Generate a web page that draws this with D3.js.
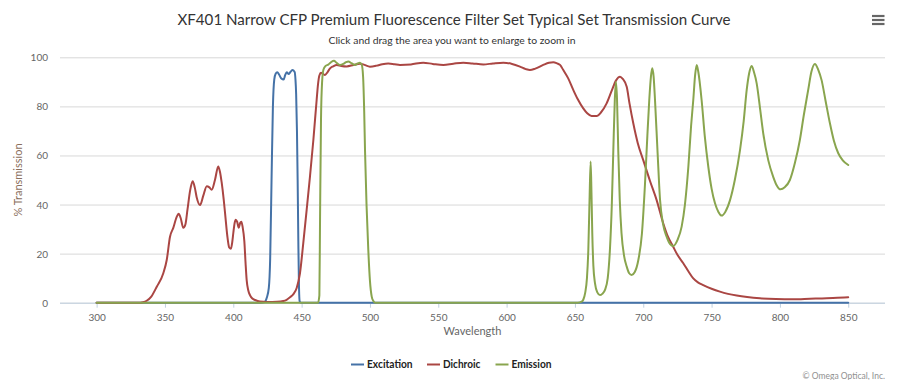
<!DOCTYPE html>
<html>
<head>
<meta charset="utf-8">
<script src="https://cdn.jsdelivr.net/npm/d3@7"></script>
<style>
html,body{margin:0;padding:0;background:#fff;}
svg{display:block;font-family:Lato,"Open Sans",sans-serif;}
</style>
</head>
<body>
<svg id="chart" width="900" height="380"></svg>
<script>
// ---- data ----
const titleText = "XF401 Narrow CFP Premium Fluorescence Filter Set Typical Set Transmission Curve";
const subtitleText = "Click and drag the area you want to enlarge to zoom in";
const seriesNames = ["Excitation", "Dichroic", "Emission"];
const seriesColors = ["#4572A7", "#AA4643", "#89A54E"];
const xTicks = [300,350,400,450,500,550,600,650,700,750,800,850];
const yTicks = [0,20,40,60,80,100];

const excitation = [[300,0],[420,0],[423,0.3],[424.5,2],[426,6],[427,18],[428,50],[429,80],[430,91],[431,93.3],[432.2,93.9],[433.5,93],[435,91.5],[436.9,91],[438,92.8],[439.1,93.9],[440.5,93.2],[441.8,94],[443.2,94.8],[444.9,94],[445.5,91],[446,85],[446.6,70],[447.1,50],[447.6,25],[448.1,6],[448.6,0.5],[449.5,0],[850,0]];

const dichroic = [[300,0],[332,0],[334,0.2],[336.6,0.8],[340,2.5],[344,6.5],[348.8,12],[351.3,17.4],[353.7,26.9],[356.1,30.5],[358.6,35],[360,36.2],[361.5,34.5],[363.4,30.5],[365,32],[366.5,38],[368.5,46],[370.3,49.5],[371.8,47],[373.2,43],[375.7,39.8],[378,43.5],[380.6,47.5],[382.5,47],[384.2,46],[386.6,50],[389,55.5],[390.2,53.5],[391.5,49],[393,42],[394,36.4],[395.9,26],[397,22.5],[398.3,22],[399.2,24.5],[400,28.3],[401,32.5],[401.8,33.8],[402.8,33],[404,30.5],[405,32.5],[405.9,33],[406.8,31],[408.1,25],[409,16],[409.8,9.2],[411,5],[412.2,3.1],[414,1.7],[416,1.1],[419.5,0.5],[425,0.3],[432,0.4],[436.6,0.7],[439,1.2],[441.5,2.2],[444,3.5],[446.4,6],[448.8,12],[451.2,24.2],[453.7,37.8],[456.1,51.3],[458.6,66.3],[461,82.6],[462,89],[463,92.6],[464.2,93.7],[465.5,93.3],[467.1,92.8],[469,94],[470.8,95.5],[473,96.3],[475.7,96.9],[479,96.5],[483,96.3],[488,96.9],[492.7,97.4],[496,96.9],[500,96.2],[504.9,96.6],[509,97.2],[513.4,97.5],[518,97.2],[522,96.9],[530,97.1],[539,97.8],[546,97.3],[553.7,96.9],[561,97.4],[568.3,97.8],[575,97.5],[583,97.1],[590,97.5],[597.6,97.8],[604,97.3],[609.8,96.2],[614,95.2],[617.1,94.8],[621,95.4],[626.8,96.9],[631,97.8],[634.2,98],[637,97.5],[639.1,96.9],[641.5,94.8],[645,91.5],[648.8,86.7],[652,83],[656.1,79.2],[659,77.2],[662.2,76.1],[665.9,76.1],[669,77.5],[673.2,81.2],[677,86.5],[680,90.5],[683,92.1],[685,91.2],[687.9,88],[690,81],[692.7,73.1],[696,65],[700,58.1],[705,49.5],[709.8,41.8],[714.6,32.4],[718,27],[721.9,22.8],[725,19.5],[729.3,16.1],[733,12.8],[736.6,9.9],[740,8.3],[743.9,7.2],[750,5.7],[756.1,4.5],[762,3.6],[768.4,2.9],[776,2.3],[785.4,1.8],[797,1.5],[809.8,1.4],[822,1.6],[834.2,1.8],[842,2.0],[850,2.2]];

const emission = [[300,0],[462,0],[463,3],[463.5,35],[464.2,75],[465,90],[466,95],[467.5,96.5],[469.5,97],[471.5,98],[473.7,98.6],[475.5,97.8],[478.1,96.9],[480.5,97.3],[482.5,98],[484.2,98.3],[486.5,97.6],[489.1,96.9],[491,97.5],[492.7,97.8],[494,97],[495,92],[495.8,78],[496.4,62],[497.5,40],[498.8,21.5],[500,9],[501.3,2.5],[502.5,0.7],[504,0],[652,0],[654.9,0.4],[656.1,1.2],[657.5,4],[658.8,10],[659.8,21.5],[660.7,42],[661.5,57.5],[662.1,45],[662.7,28.3],[663.5,15],[664.7,7.9],[666.3,4.3],[668.3,3.1],[670,3.6],[672,5.2],[674,10],[675.6,21.5],[677,40],[678.1,62.2],[679.2,83],[680,90],[680.8,83],[681.7,62.2],[682.8,42],[684.1,28.3],[686,19],[687.9,14.7],[689.7,12],[691.5,11.3],[693.8,12.5],[696.4,17.4],[699,28],[701.3,48.7],[703,68],[704.4,82.6],[705.6,92],[706.6,95.5],[707.6,92],[708.6,82.6],[710.5,61],[712.3,41.8],[714.5,32],[717.1,26.9],[719.5,24],[722,23.1],[725,25.5],[728.1,31],[730.5,40],[733,55.4],[735,72],[736.6,82.6],[738,93],[739.1,96.9],[740.3,94],[742.7,82.6],[745,68],[747.6,55.4],[750,46.5],[752.5,40.5],[755,37],[757.4,35.5],[760,37],[763.5,41.8],[767,50],[770.8,62.2],[773.5,74],[775.7,86.7],[777.5,93.5],[779.3,96.5],[781,94],[783,89.4],[785.5,79],[787.8,69],[791.5,58],[795.1,51.3],[797.5,48],[800.5,46.2],[803.5,47],[807.3,50],[811,57],[814.6,66.3],[817.5,76.5],[820.7,86.7],[823,94],[825.6,97.3],[828,95],[830.5,90.7],[833.5,82],[836.6,73.1],[839.5,66],[842.7,60.9],[846,58],[850,56.1]];

const seriesData = [excitation, dichroic, emission];

// ---- layout ----
const svg = d3.select("#chart");
const plot = {left: 60, right: 885, top: 57.3, bottom: 302.7};
const x = d3.scaleLinear().domain([273.2, 876.9]).range([plot.left, plot.right]);
const y = d3.scaleLinear().domain([0, 100]).range([plot.bottom, plot.top]);

// title + subtitle
svg.append("text").attr("x", 454).attr("y", 25).attr("text-anchor", "middle")
  .attr("font-size", 16).attr("fill", "#333")
  .attr("textLength", 553).attr("lengthAdjust", "spacingAndGlyphs").text(titleText);
svg.append("text").attr("x", 452).attr("y", 44.3).attr("text-anchor", "middle")
  .attr("font-size", 10).attr("fill", "#333")
  .attr("textLength", 247).attr("lengthAdjust", "spacingAndGlyphs").text(subtitleText);

// menu icon
const menu = svg.append("g");
[16, 20, 24].forEach(yy => menu.append("line").attr("x1", 872).attr("x2", 884.5)
  .attr("y1", yy).attr("y2", yy).attr("stroke", "#666").attr("stroke-width", 2.2));

// grid
const yAxis = d3.axisLeft(y).tickValues(yTicks).tickSize(-(plot.right - plot.left)).tickPadding(12);
const gy = svg.append("g").attr("transform", `translate(${plot.left},0)`).call(yAxis);
gy.select(".domain").remove();
gy.selectAll(".tick line").attr("stroke", "#d8d8d8");
gy.selectAll(".tick text").attr("fill", "#666").attr("font-size", 10).attr("x", -12).attr("dy", "0.35em")
  .attr("font-family", "Lato,'Open Sans',sans-serif");

// x axis
const xAxis = d3.axisBottom(x).tickValues(xTicks).tickSize(5).tickPadding(6);
const gx = svg.append("g").attr("transform", `translate(0,${plot.bottom})`).call(xAxis);
gx.select(".domain").attr("d", `M${plot.left},0.5H${plot.right}`).attr("stroke", "#C0D0E0");
gx.selectAll(".tick line").attr("stroke", "#C0D0E0");
gx.selectAll(".tick text").attr("fill", "#666").attr("font-size", 10)
  .attr("font-family", "Lato,'Open Sans',sans-serif");

// axis titles
svg.append("text").attr("x", (plot.left + plot.right) / 2).attr("y", 334.5).attr("text-anchor", "middle")
  .attr("font-size", 11).attr("fill", "#666").text("Wavelength");
svg.append("text").attr("transform", `translate(22,${(plot.top + plot.bottom) / 2}) rotate(-90)`)
  .attr("text-anchor", "middle").attr("font-size", 11).attr("fill", "#8b6f5c").text("% Transmission");

// lines
const line = d3.line().x(d => x(d[0])).y(d => y(d[1])).curve(d3.curveMonotoneX);
seriesData.forEach((data, i) => {
  svg.append("path").datum(data).attr("d", line).attr("fill", "none")
    .attr("stroke", seriesColors[i]).attr("stroke-width", 2)
    .attr("stroke-linejoin", "round").attr("stroke-linecap", "round");
});

// legend
const legendSym = [351, 427, 495.5];
const legendW = [45.6, 37.4, 40];
seriesNames.forEach((name, i) => {
  const g = svg.append("g");
  g.append("line").attr("x1", legendSym[i]).attr("x2", legendSym[i] + 13)
    .attr("y1", 364.5).attr("y2", 364.5).attr("stroke", seriesColors[i]).attr("stroke-width", 2);
  g.append("text").attr("x", legendSym[i] + 16).attr("y", 368.3)
    .attr("font-size", 10.5).attr("font-weight", "bold").attr("fill", "#222")
    .attr("textLength", legendW[i]).attr("lengthAdjust", "spacingAndGlyphs").text(name);
});

// credits
svg.append("text").attr("x", 885).attr("y", 379).attr("text-anchor", "end")
  .attr("font-size", 8.5).attr("fill", "#909090").text("© Omega Optical, Inc.");
</script>
</body>
</html>
